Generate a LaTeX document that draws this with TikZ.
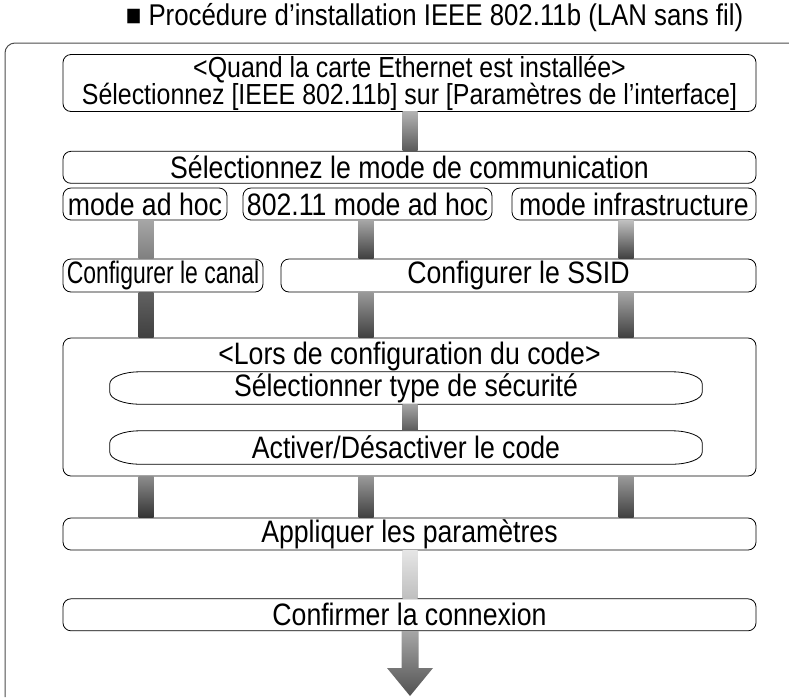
\documentclass[tikz,border=0pt]{standalone}
\usepackage{fontspec}
\setmainfont{Liberation Sans}[FakeStretch=0.86]
\usepackage{graphicx}
\usetikzlibrary{positioning}
\tikzstyle{box} = [draw,rectangle,rounded corners=8pt,line width=0.8pt,inner sep=0pt,minimum height=32pt,align=center]
\tikzstyle{plain} = [rectangle,inner sep=0pt,minimum height=32pt,align=center]
% gray bar from one node down to the next, at the x of a column
\newcommand{\linkbar}[5]{\shade[top color=#4,bottom color=#5] ([xshift=-7.5pt]#1.south -| #3) rectangle ([xshift=7.5pt]#2.north -| #3);}
% outline with long oval ends
\newcommand{\capsule}[1]{\draw[line width=0.8pt] ([xshift=30pt]#1.north west) -- ([xshift=-30pt]#1.north east) arc[start angle=90,end angle=0,x radius=30pt,y radius=12pt] -- ([yshift=12pt]#1.south east) arc[start angle=0,end angle=-90,x radius=30pt,y radius=12pt] -- ([xshift=30pt]#1.south west) arc[start angle=270,end angle=180,x radius=30pt,y radius=12pt] -- ([yshift=-12pt]#1.north west) arc[start angle=180,end angle=90,x radius=30pt,y radius=12pt] -- cycle;}

\begin{document}
\begin{tikzpicture} [
    x=1pt, y=-1pt,
    font=\fontsize{31pt}{23pt}\selectfont,
    frame/.style={draw=black!70,line width=1pt,rounded corners=10pt},
    ]
    \useasboundingbox (0,0) rectangle (789,697);

    \node [font=\fontsize{30pt}{30pt}\selectfont] (title) at (434.5,18) {■ Procédure d’installation IEEE 802.11b (LAN sans fil)};
    \draw [frame] (5,697) -- (5,43) -- (789,43);

    % columns of the bars
    \coordinate (c0) at (410,0);
    \coordinate (c1) at (146,0);
    \coordinate (c2) at (366,0);
    \coordinate (c3) at (626,0);

    \node [box, minimum width=693pt, minimum height=57pt, font=\fontsize{29pt}{23pt}\selectfont] (quand) at (409.5,83) {<Quand la carte Ethernet est installée>\\[-1pt]Sélectionnez [IEEE 802.11b] sur [Paramètres de l’interface]};
    \node [box, minimum width=693pt, below=39pt of quand] (selmode) {Sélectionnez le mode de communication};
    \node [box, minimum width=164pt] (adhoc) at (145,204) {mode ad hoc};
    \node [box, minimum width=249pt] (dotadhoc) at (367.5,204) {802.11 mode ad hoc};
    \node [box, minimum width=244pt] (infra) at (634,204) {mode infrastructure};
    \node [box, minimum width=200pt, minimum height=33pt] (canal) at (163,275.5) {\scalebox{0.86}[1]{Configurer le canal}};
    \node [box, minimum width=475pt, minimum height=33pt] (ssid) at (518.5,275.5) {Configurer le SSID};
    \node [box, minimum width=693pt, minimum height=138pt] (code) at (409.5,407) {};
    \node (codetitle) at (409.5,356) {<Lors de configuration du code>};
    \node [plain, minimum width=592pt] (secu) at (406,388) {Sélectionner type de sécurité};
    \node [plain, minimum width=592pt, minimum height=33pt] (activ) at (406,447.5) {Activer/Désactiver le code};
    \capsule{secu}
    \capsule{activ}
    \node [box, minimum width=693pt] (appl) at (409.5,534) {Appliquer les paramètres};
    \node [box, minimum width=693pt, below=48pt of appl] (confirm) {Confirmer la connexion};
    \coordinate (tip) at (410,696);

    \linkbar{quand}{selmode}{c0}{black!30}{black!65}
    \linkbar{adhoc}{canal}{c1}{black!35}{black!50}
    \linkbar{dotadhoc}{ssid}{c2}{black!35}{black!75}
    \linkbar{infra}{ssid}{c3}{black!25}{black!75}
    \linkbar{canal}{code}{c1}{black!62}{black!75}
    \linkbar{ssid}{code}{c2}{black!40}{black!75}
    \linkbar{ssid}{code}{c3}{black!35}{black!75}
    \linkbar{secu}{activ}{c0}{black!35}{black!65}
    \linkbar{code}{appl}{c1}{black!45}{black!80}
    \linkbar{code}{appl}{c2}{black!40}{black!75}
    \linkbar{code}{appl}{c3}{black!40}{black!75}
    \linkbar{appl}{confirm}{c0}{black!10}{black!25}
    \shade[top color=black!35,bottom color=black!68] ([xshift=-8.5pt]confirm.south -| tip) -- ([xshift=-8.5pt,yshift=28pt]tip) -- ([xshift=-23pt,yshift=28pt]tip) -- (tip) -- ([xshift=23pt,yshift=28pt]tip) -- ([xshift=8.5pt,yshift=28pt]tip) -- ([xshift=8.5pt]confirm.south -| tip) -- cycle;
\end{tikzpicture}
\end{document}
